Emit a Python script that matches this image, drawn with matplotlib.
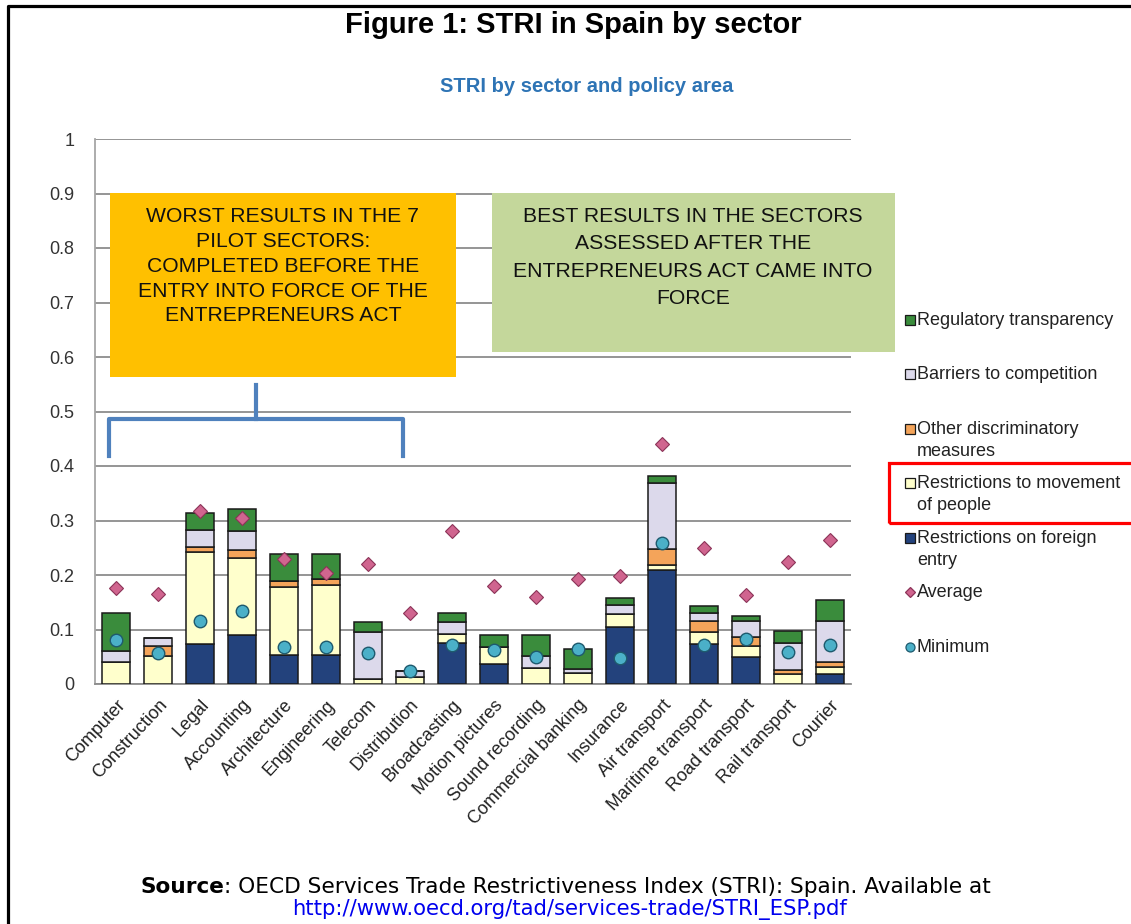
import matplotlib
matplotlib.use("Agg")
import matplotlib.pyplot as plt
import numpy as np
from matplotlib.patches import Rectangle
from matplotlib.lines import Line2D

# ---------------- data ----------------
sectors = ["Computer", "Construction", "Legal", "Accounting", "Architecture",
           "Engineering", "Telecom", "Distribution", "Broadcasting",
           "Motion pictures", "Sound recording", "Commercial banking",
           "Insurance", "Air transport", "Maritime transport", "Road transport",
           "Rail transport", "Courier"]

foreign_entry = [0.000, 0.000, 0.073, 0.090, 0.053, 0.053, 0.000, 0.000, 0.076,
                 0.037, 0.000, 0.000, 0.104, 0.209, 0.073, 0.049, 0.000, 0.018]
movement_people = [0.041, 0.052, 0.170, 0.142, 0.125, 0.128, 0.009, 0.012, 0.015,
                   0.030, 0.029, 0.020, 0.024, 0.009, 0.022, 0.021, 0.018, 0.014]
other_discrim = [0.000, 0.018, 0.009, 0.013, 0.011, 0.011, 0.000, 0.000, 0.000,
                 0.000, 0.000, 0.000, 0.000, 0.029, 0.021, 0.017, 0.008, 0.008]
barriers_comp = [0.020, 0.014, 0.030, 0.036, 0.000, 0.000, 0.087, 0.012, 0.022,
                 0.000, 0.023, 0.008, 0.017, 0.121, 0.014, 0.029, 0.050, 0.075]
reg_transparency = [0.070, 0.000, 0.032, 0.041, 0.050, 0.047, 0.018, 0.000, 0.018,
                    0.023, 0.038, 0.036, 0.012, 0.013, 0.013, 0.009, 0.022, 0.039]
average = [0.177, 0.166, 0.317, 0.305, 0.229, 0.204, 0.221, 0.131, 0.280,
           0.179, 0.159, 0.192, 0.199, 0.440, 0.250, 0.163, 0.223, 0.264]
minimum = [0.080, 0.056, 0.116, 0.134, 0.067, 0.067, 0.057, 0.024, 0.072,
           0.062, 0.050, 0.065, 0.047, 0.258, 0.071, 0.083, 0.059, 0.072]

series_names = ["Restrictions on foreign\nentry", "Restrictions to movement\nof people",
                "Other discriminatory\nmeasures", "Barriers to competition",
                "Regulatory transparency"]
yticks = [0, 0.1, 0.2, 0.3, 0.4, 0.5, 0.6, 0.7, 0.8, 0.9, 1]
ytick_labels = ["0", "0.1", "0.2", "0.3", "0.4", "0.5", "0.6", "0.7", "0.8", "0.9", "1"]

title = "Figure 1: STRI in Spain by sector"
subtitle = "STRI by sector and policy area"
box1_text = "WORST RESULTS IN THE 7\nPILOT SECTORS:\nCOMPLETED BEFORE THE\nENTRY INTO FORCE OF THE\nENTREPRENEURS ACT"
box2_text = "BEST RESULTS IN THE SECTORS\nASSESSED AFTER THE\nENTREPRENEURS ACT CAME INTO\nFORCE"
source_rest = ": OECD Services Trade Restrictiveness Index (STRI): Spain. Available at"
url = "http://www.oecd.org/tad/services-trade/STRI_ESP.pdf"

# ---------------- style ----------------
C_BLUE = "#23427c"
C_YELLOW = "#ffffcc"
C_ORANGE = "#f4a45a"
C_LAV = "#dcd9eb"
C_GREEN = "#3a8c3c"
C_AVG = "#d0658f"
C_AVG_E = "#8c3358"
C_MIN = "#4bb0c8"
C_MIN_E = "#1e5a6e"
colors = [C_BLUE, C_YELLOW, C_ORANGE, C_LAV, C_GREEN]

plt.rcParams['font.family'] = ['Liberation Sans', 'DejaVu Sans']

W, H = 1131, 924
fig = plt.figure(figsize=(W / 100, H / 100), dpi=100)
fig.patch.set_facecolor("white")


def fx(x):
    return x / W


def fy(y):
    return 1 - y / H


ax = fig.add_axes([fx(95), fy(684), (851 - 95) / W, (684 - 139) / H])
x = np.arange(len(sectors))
stack = [foreign_entry, movement_people, other_discrim, barriers_comp, reg_transparency]
bottom = np.zeros(len(sectors))
for vals, col in zip(stack, colors):
    vals = np.array(vals)
    ax.bar(x, vals, width=0.65, bottom=bottom, color=col, edgecolor="#1a1a1a",
           linewidth=1.1, zorder=3)
    bottom += vals

ax.plot(x, average, linestyle="none", marker="D", markersize=7.5,
        markerfacecolor=C_AVG, markeredgecolor=C_AVG_E, markeredgewidth=0.8, zorder=5)
ax.plot(x, minimum, linestyle="none", marker="o", markersize=9,
        markerfacecolor=C_MIN, markeredgecolor=C_MIN_E, markeredgewidth=1.0, zorder=5)

ax.set_xlim(-0.5, len(sectors) - 0.5)
ax.set_ylim(0, 1)
ax.set_yticks(yticks)
ax.set_yticklabels(ytick_labels, fontsize=13, color="#333333")
ax.set_xticks(x)
ax.set_xticklabels(sectors, rotation=47, ha="right", rotation_mode="anchor",
                   fontsize=13, color="#222222")
ax.tick_params(axis="y", length=0, pad=15)
ax.tick_params(axis="x", length=0, pad=9)
ax.yaxis.grid(True, color="#8c8c8c", linewidth=1.3, zorder=0)
ax.set_axisbelow(True)
for s in ["top", "right"]:
    ax.spines[s].set_visible(False)
ax.spines["left"].set_color("#a6a6a6")
ax.spines["left"].set_linewidth(1.3)
ax.spines["bottom"].set_color("#8c8c8c")
ax.spines["bottom"].set_linewidth(1.3)

# ---------------- titles ----------------
fig.text(fx(573), fy(25), title, ha="center", va="center", fontsize=21,
         fontweight="bold", color="black")
fig.text(fx(587), fy(86), subtitle, ha="center", va="center", fontsize=14.5,
         fontweight="bold", color="#2e74b5")

# ---------------- annotation boxes ----------------
fig.add_artist(Rectangle((fx(110), fy(377)), (456 - 110) / W, (377 - 193) / H,
                         transform=fig.transFigure, facecolor="#ffc000",
                         edgecolor="none", zorder=10))
fig.text(fx(283), fy(207), box1_text, ha="center", va="top", fontsize=15.2,
         linespacing=1.39, color="#111111", zorder=11)
fig.add_artist(Rectangle((fx(492), fy(352)), (895 - 492) / W, (352 - 193) / H,
                         transform=fig.transFigure, facecolor="#c4d79b",
                         edgecolor="none", zorder=10))
fig.text(fx(693), fy(207), box2_text, ha="center", va="top", fontsize=15.2,
         linespacing=1.56, color="#111111", zorder=11)

# bracket
br = "#4f81bd"
for xs, ys in [([109, 109, 403, 403], [456, 419, 419, 456]), ([256, 256], [419, 385])]:
    fig.add_artist(Line2D([fx(v) for v in xs], [fy(v) for v in ys],
                          transform=fig.transFigure, color=br, linewidth=3,
                          solid_joinstyle="round", zorder=12))

# ---------------- legend ----------------
legend_items = [
    (series_names[4], 319, "s", C_GREEN, "#1a1a1a"),
    (series_names[3], 373, "s", C_LAV, "#1a1a1a"),
    (series_names[2], 428, "s", C_ORANGE, "#1a1a1a"),
    (series_names[1], 482, "s", C_YELLOW, "#1a1a1a"),
    (series_names[0], 537, "s", C_BLUE, "#1a1a1a"),
    ("Average", 591, "D", C_AVG, C_AVG_E),
    ("Minimum", 646, "o", C_MIN, C_MIN_E),
]
for label, yy, mk, fc, ec in legend_items:
    ms = {"s": 6.5, "D": 5, "o": 6.5}[mk]
    fig.add_artist(Line2D([fx(910)], [fy(yy + 1)], transform=fig.transFigure,
                          marker=mk, markersize=ms, markerfacecolor=fc,
                          markeredgecolor=ec, markeredgewidth=0.9, linestyle="none",
                          zorder=12))
    fig.text(fx(917), fy(yy - 7), label, ha="left", va="top", fontsize=13,
             linespacing=1.38, color="#222222", zorder=12)

fig.add_artist(Rectangle((fx(889), fy(523)), (1140 - 889) / W, (523 - 463) / H,
                         transform=fig.transFigure, facecolor="none",
                         edgecolor="#ff0000", linewidth=2.3, zorder=13))

# ---------------- frame ----------------
fig.add_artist(Line2D([fx(7.5), fx(7.5), fx(1135)], [fy(930), fy(6), fy(6)],
                      transform=fig.transFigure, color="black", linewidth=2.3,
                      zorder=14))

# ---------------- source ----------------
t1 = fig.text(fx(140), fy(887), "Source", ha="left", va="center", fontsize=15.6,
              fontweight="bold", family="DejaVu Sans", color="black")
fig.texts.append(plt.Annotation(source_rest, xy=(1, 0.5), xycoords=t1,
                                ha="left", va="center", fontsize=15.6,
                                family="DejaVu Sans", color="black"))
fig.texts[-1].set_figure(fig)
fig.text(fx(570), fy(910), url, ha="center", va="center", fontsize=15.2,
         family="DejaVu Sans", color="#0000ee")

fig.savefig("out.png", dpi=100)
